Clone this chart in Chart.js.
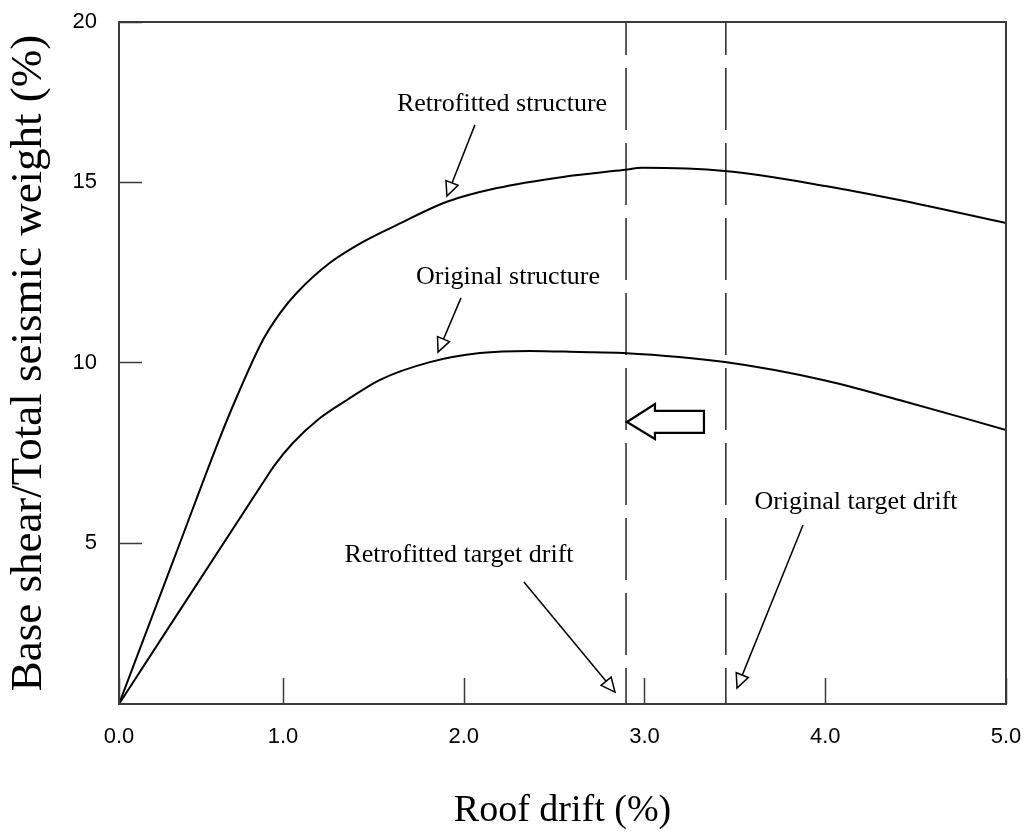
<!DOCTYPE html>
<html>
<head>
<meta charset="utf-8">
<script src="https://cdn.jsdelivr.net/npm/chart.js@4"></script>
<style>
  html, body { margin: 0; padding: 0; background: #fff; }
  canvas { display: block; }
</style>
</head>
<body>
<canvas id="c" width="1030" height="834"></canvas>
<script>
// ---- data ----
const retroX = [0.093, 0.40, 0.65, 0.745, 0.889, 0.983, 1.077, 1.260, 1.443, 1.631, 1.907, 2.184, 2.549, 2.881, 2.99, 3.445, 4.0, 4.41, 5.0];
const retroY = [0.54, 4.60, 7.90, 9.05, 10.62, 11.36, 11.93, 12.76, 13.34, 13.81, 14.45, 14.83, 15.14, 15.33, 15.39, 15.30, 14.89, 14.50, 13.86];
const origX  = [0.093, 0.90, 0.95, 1.055, 1.20, 1.354, 1.537, 1.813, 2.090, 2.367, 2.643, 2.881, 3.445, 4.0, 4.41, 5.0];
const origY  = [0.54, 6.75, 7.13, 7.77, 8.44, 8.96, 9.52, 10.01, 10.26, 10.32, 10.29, 10.26, 10.01, 9.50, 8.96, 8.13];
const targetDrifts = [2.898, 3.45];   // retrofitted, original

const xRange = [0.093, 5.0];
const yRange = [0.54, 19.43];
const xTickValues = [0.093, 1, 2, 3, 4, 5];
const xTickLabels = ['0.0', '1.0', '2.0', '3.0', '4.0', '5.0'];
const yTickValues = [5, 10, 15, 19.43];
const yTickLabels = ['5', '10', '15', '20'];

const xTitle = 'Roof drift (%)';
const yTitle = 'Base shear/Total seismic weight (%)';

// annotations in data coordinates
const notes = [
  { text: 'Retrofitted structure',    tx: 2.212, ty: 17.16, from: [2.062, 16.58], to: [1.907, 14.61] },
  { text: 'Original structure',       tx: 2.245, ty: 12.37, from: [1.985, 11.79], to: [1.858, 10.29] },
  { text: 'Retrofitted target drift', tx: 1.974, ty: 4.67,  from: [2.333, 3.92],  to: [2.837, 0.87] },
  { text: 'Original target drift',    tx: 4.170, ty: 6.14,  from: [3.877, 5.50],  to: [3.512, 0.98] }
];
const blockArrow = [[2.903, 8.35], [3.058, 8.85], [3.058, 8.66], [3.329, 8.66], [3.329, 8.05], [3.058, 8.05], [3.058, 7.88]];

const pts = (xs, ys) => xs.map((x, i) => ({ x: x, y: ys[i] }));

const frameColor = '#3a3a3a';

const decor = {
  id: 'decor',
  afterDatasetsDraw(chart) {
    const { ctx, chartArea: a, scales: { x, y } } = chart;
    ctx.save();
    // frame
    ctx.strokeStyle = frameColor;
    ctx.lineWidth = 2;
    ctx.strokeRect(a.left, a.top, a.right - a.left, a.bottom - a.top);
    // inward tick marks
    ctx.lineWidth = 1.5;
    ctx.beginPath();
    x.ticks.forEach(t => {
      const px = Math.round(x.getPixelForValue(t.value)) + 0.5;
      ctx.moveTo(px, a.bottom); ctx.lineTo(px, a.bottom - 26);
    });
    y.ticks.forEach(t => {
      const py = Math.round(y.getPixelForValue(t.value)) + 0.5;
      ctx.moveTo(a.left, py); ctx.lineTo(a.left + 23, py);
    });
    ctx.stroke();

    // annotation texts + arrows
    ctx.fillStyle = '#000';
    ctx.font = '26px "Liberation Serif"';
    ctx.textAlign = 'center';
    ctx.textBaseline = 'middle';
    notes.forEach(n => {
      ctx.fillText(n.text, x.getPixelForValue(n.tx), y.getPixelForValue(n.ty));
      const x1 = x.getPixelForValue(n.from[0]), y1 = y.getPixelForValue(n.from[1]);
      const x2 = x.getPixelForValue(n.to[0]),   y2 = y.getPixelForValue(n.to[1]);
      const ang = Math.atan2(y2 - y1, x2 - x1);
      const L = 14, W = 6.5;
      const bx = x2 - L * Math.cos(ang), by = y2 - L * Math.sin(ang);
      ctx.strokeStyle = '#000';
      ctx.lineWidth = 1.5;
      ctx.beginPath(); ctx.moveTo(x1, y1); ctx.lineTo(bx, by); ctx.stroke();
      ctx.beginPath();
      ctx.moveTo(x2, y2);
      ctx.lineTo(bx - W * Math.sin(ang), by + W * Math.cos(ang));
      ctx.lineTo(bx + W * Math.sin(ang), by - W * Math.cos(ang));
      ctx.closePath();
      ctx.fillStyle = '#fff'; ctx.fill();
      ctx.stroke();
      ctx.fillStyle = '#000';
    });

    // hollow block arrow
    ctx.beginPath();
    blockArrow.forEach((p, i) => {
      const px = x.getPixelForValue(p[0]), py = y.getPixelForValue(p[1]);
      if (i === 0) ctx.moveTo(px, py); else ctx.lineTo(px, py);
    });
    ctx.closePath();
    ctx.fillStyle = '#fff'; ctx.fill();
    ctx.strokeStyle = '#000'; ctx.lineWidth = 2.2; ctx.lineJoin = 'miter';
    ctx.stroke();
    ctx.restore();
  }
};

const curveStyle = { borderColor: '#000', borderWidth: 2, pointRadius: 0, fill: false, cubicInterpolationMode: 'monotone', showLine: true };
const dashStyle = { borderColor: '#333', borderWidth: 1.6, pointRadius: 0, fill: false, showLine: true, borderDash: [62, 13], borderDashOffset: 29, tension: 0 };

new Chart(document.getElementById('c'), {
  type: 'scatter',
  data: {
    datasets: [
      Object.assign({ label: 'Retrofitted structure', data: pts(retroX, retroY) }, curveStyle),
      Object.assign({ label: 'Original structure', data: pts(origX, origY) }, curveStyle),
      Object.assign({ label: 'Retrofitted target drift', data: [{ x: targetDrifts[0], y: yRange[1] }, { x: targetDrifts[0], y: yRange[0] }] }, dashStyle),
      Object.assign({ label: 'Original target drift', data: [{ x: targetDrifts[1], y: yRange[1] }, { x: targetDrifts[1], y: yRange[0] }] }, dashStyle)
    ]
  },
  options: {
    responsive: false,
    animation: false,
    events: [],
    layout: { padding: { top: 22, right: 24, left: 0, bottom: 0 } },
    plugins: { legend: { display: false }, tooltip: { enabled: false } },
    scales: {
      x: {
        type: 'linear', min: xRange[0], max: xRange[1],
        afterBuildTicks: s => { s.ticks = xTickValues.map(v => ({ value: v })); },
        afterFit: s => { s.height = 130; },
        grid: { display: false, drawTicks: true, tickLength: 18 },
        border: { display: false },
        ticks: {
          autoSkip: false, maxRotation: 0, padding: 2, color: '#000',
          font: { family: '"Liberation Sans", Arial, sans-serif', size: 22 },
          callback: (v, i) => xTickLabels[i]
        },
        title: {
          display: true, text: xTitle, color: '#000',
          font: { family: '"Liberation Serif", "Times New Roman", serif', size: 38 },
          padding: { top: 0, bottom: 0 }
        }
      },
      y: {
        type: 'linear', min: yRange[0], max: yRange[1],
        afterBuildTicks: s => { s.ticks = yTickValues.map(v => ({ value: v })); },
        afterFit: s => { s.width = 119; },
        grid: { display: false, drawTicks: true, tickLength: 20 },
        border: { display: false },
        ticks: {
          autoSkip: false, padding: 2, color: '#000',
          font: { family: '"Liberation Sans", Arial, sans-serif', size: 22 },
          callback: (v, i) => yTickLabels[i]
        },
        title: {
          display: true, text: yTitle, color: '#000',
          font: { family: '"Liberation Serif", "Times New Roman", serif', size: 45 },
          padding: { top: 2, bottom: 0 }
        }
      }
    }
  },
  plugins: [decor]
});
</script>
</body>
</html>
